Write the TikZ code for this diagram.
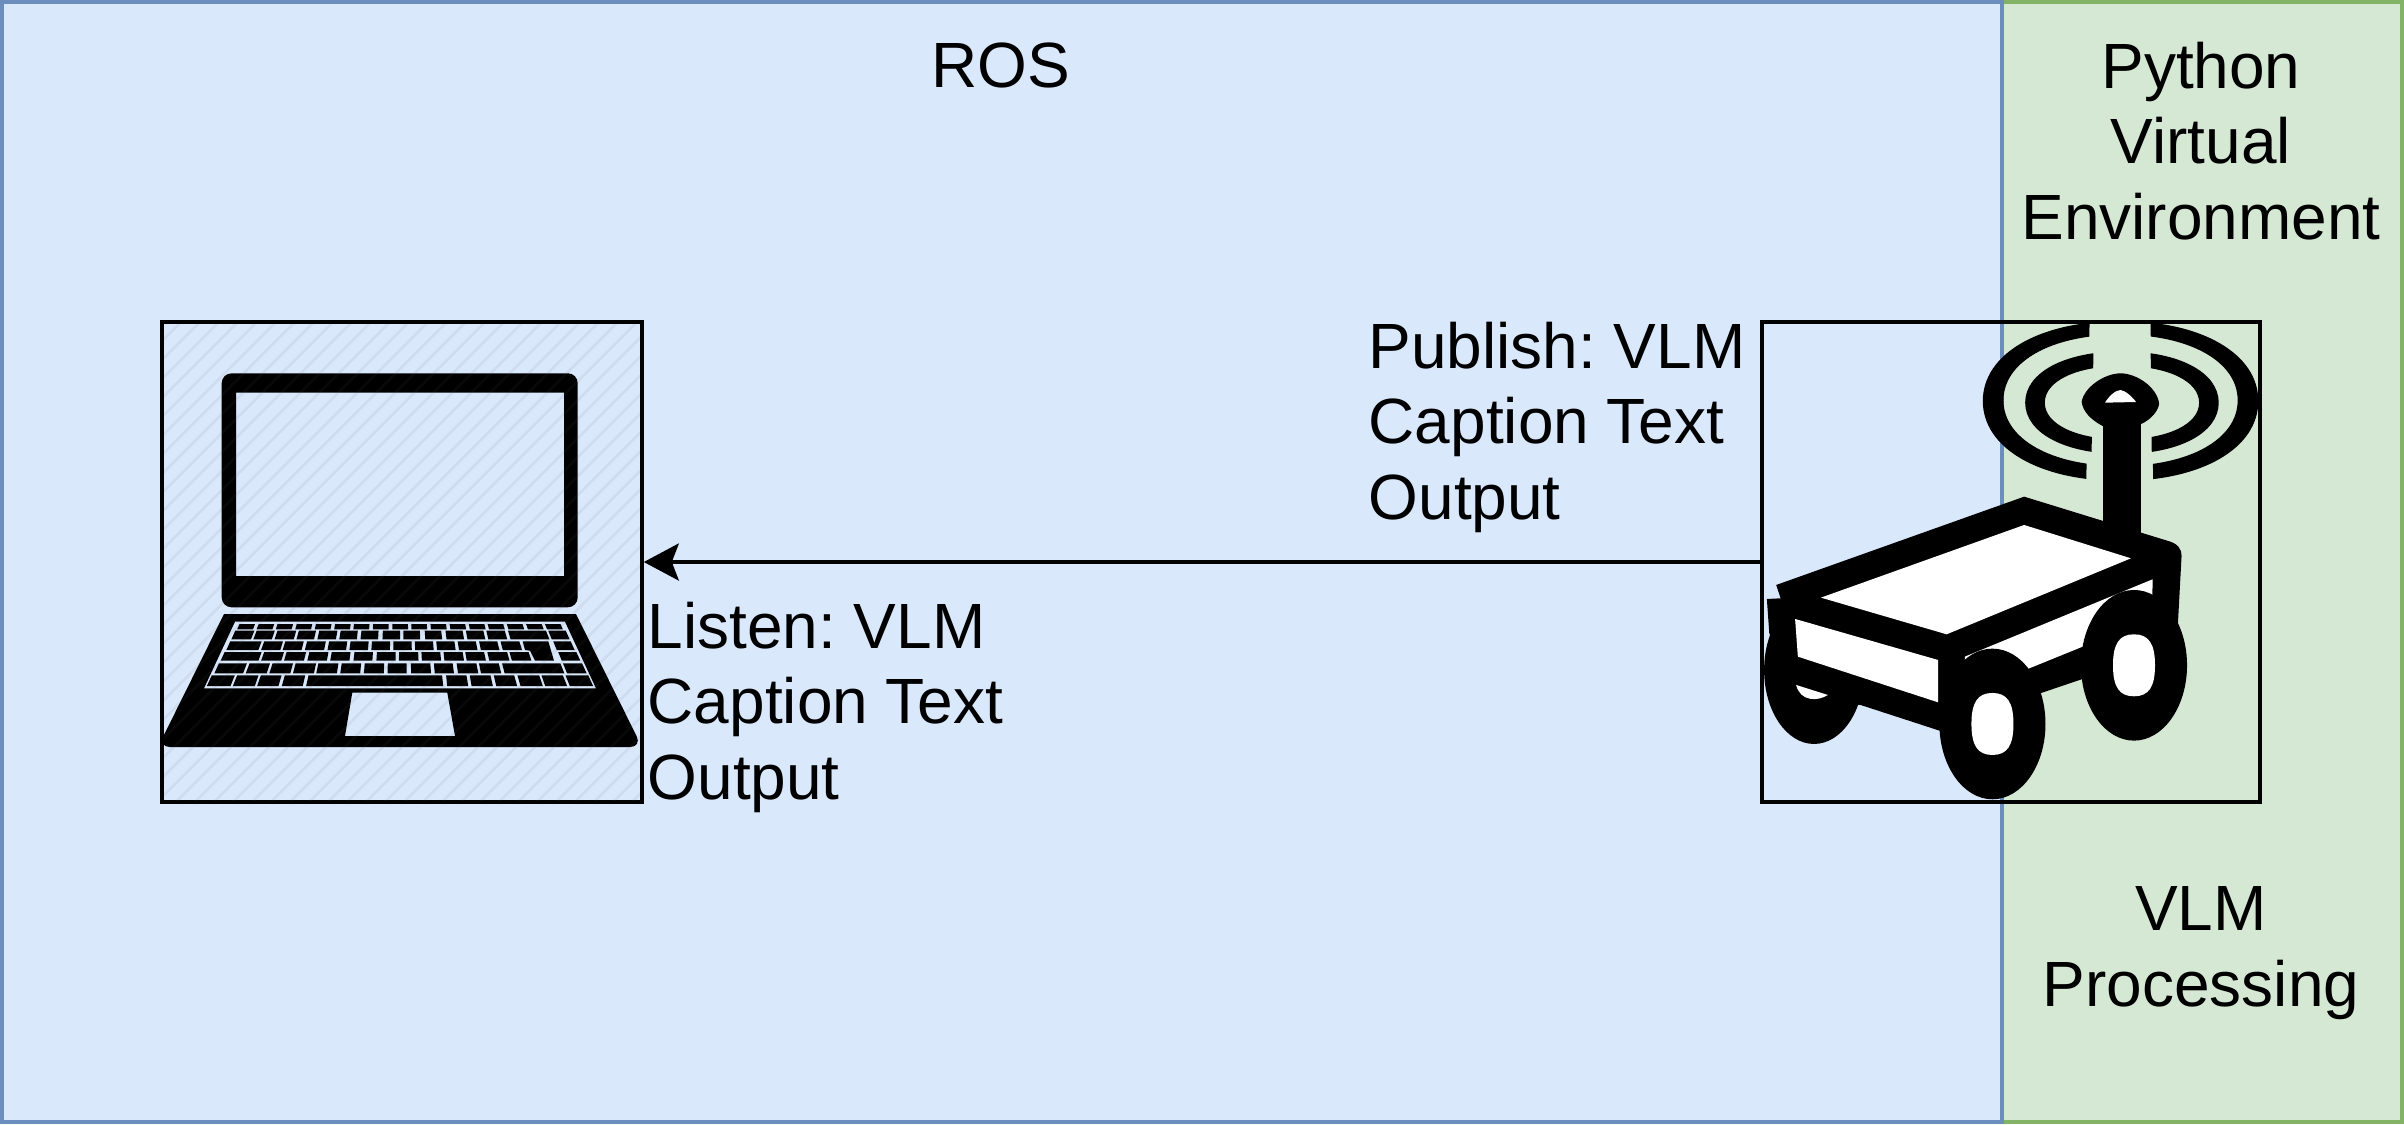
\documentclass[tikz,border=0pt]{standalone}
\usepackage{fontspec}
\setmainfont{Liberation Sans}
\usetikzlibrary{arrows.meta}

\definecolor{rosfill}{HTML}{DAE8FC}
\definecolor{rosline}{HTML}{6C8EBF}
\definecolor{pyfill}{HTML}{D5E8D4}
\definecolor{pyline}{HTML}{82B366}
\definecolor{hatchline}{HTML}{5F6068}

\tikzset{
  area/.style={line width=.4mm},
  iconbox/.style={draw=black,line width=.36mm,minimum height=48mm,inner sep=0pt},
  lbl/.style={inner sep=0pt,font=\fontsize{18.2}{21.6}\selectfont\frenchspacing},
  declare function={keyhw(\t)=165+(\t-621.7)*.4655;}
}

% one row of keys, x values are taken at the middle of the row
\newcommand{\lapkeys}[3]{%
  \pgfmathsetmacro{\ymid}{(#1+#2)/2}
  \pgfmathsetmacro{\ktop}{keyhw(#1)/keyhw(\ymid)}
  \pgfmathsetmacro{\kbot}{keyhw(#2)/keyhw(\ymid)}
  \foreach \a/\b in {#3} {
    \fill ({400+(\a/3-200)*\ktop},#1) -- ({400+(\b/3-200)*\ktop},#1)
       -- ({400+(\b/3-200)*\kbot},#2) -- ({400+(\a/3-200)*\kbot},#2) -- cycle;
  }
}

% oval a bit squarer than an ellipse: cx, cy, rx, ry, squareness
\newcommand{\squoval}[5]{
  (#1-#3,#2) .. controls (#1-#3,#2-#5*#4) and (#1-#5*#3,#2-#4) .. (#1,#2-#4)
  .. controls (#1+#5*#3,#2-#4) and (#1+#3,#2-#5*#4) .. (#1+#3,#2)
  .. controls (#1+#3,#2+#5*#4) and (#1+#5*#3,#2+#4) .. (#1,#2+#4)
  .. controls (#1-#5*#3,#2+#4) and (#1-#3,#2+#5*#4) .. (#1-#3,#2) -- cycle
}

\begin{document}
\begin{tikzpicture}[x=0.1mm,y=-0.1mm,>={Stealth[length=3.5mm,width=3.7mm,inset=.7mm]}]
\useasboundingbox (0,0) rectangle (2404,1124);

% areas
\draw [area,draw=pyline,fill=pyfill] (2002,2) rectangle (2402,1122);
\draw [area,draw=rosline,fill=rosfill] (2,2) rectangle (2002,1122);

\node[lbl,anchor=base] (rostitle) at (1001,87) {ROS};
\node[lbl,anchor=north,align=center] (pytitle) at (2201,41) {Python\\Virtual\\Environment};
\node[lbl,anchor=north,align=center] (vlmtitle) at (2201,886) {VLM\\Processing};

% boxes
\node[iconbox,minimum width=48mm] (lapbox) at (402,562) {};
\node[iconbox,minimum width=49.8mm] (robotbox) at (2011,562) {};

\draw [line width=.36mm,->] (robotbox.west) -- (lapbox.east);

\node[lbl,anchor=north west,align=left] (publishtxt) at (1368,321) {Publish: VLM\\Caption Text\\Output};
\node[lbl,anchor=north west,align=left] (listentxt) at (647,601) {Listen: VLM\\Caption Text\\Output};

% laptop
\fill [even odd rule,rounded corners=2.8pt] (221.7,373.3) rectangle (577.7,607.3)
   [sharp corners] (236,392.7) rectangle (564,576);
\fill [even odd rule] (224,614) -- (576,614) [rounded corners=3.4pt] -- (642,747) -- (158,747) [sharp corners] -- cycle
   (235,621.7) -- (565,621.7) -- (596,688.3) -- (204,688.3) -- cycle
   (352.3,692.7) -- (447.3,692.7) -- (455,736) -- (345,736) -- cycle;

\lapkeys{624}{629.3}{115/162,173/220,230/277,288/335,346/393,404/451,461/508,519/566,577/624,634/681,692/739,750/797,808/855,865/912,923/970,981/1028,1038/1085}
\lapkeys{630.7}{639.3}{100/158,165/220,228/285,293/345,355/410,420/472,483/535,548/600,610/660,675/725,738/790,800/853,862/918,928/1043,1050/1103}
\lapkeys{641.3}{650}{85/180,188/245,252/308,318/375,385/440,450/505,515/570,580/635,645/700,710/765,775/830,840/895,905/962,1065/1118}
\lapkeys{652}{660.7}{68/180,188/248,256/315,325/383,393/450,462/518,530/587,597/655,665/722,732/790,798/855,865/925,932/990,1080/1135}
\lapkeys{663.3}{673.3}{50/135,143/205,213/275,283/345,352/413,423/482,493/552,563/620,633/692,703/760,772/832,840/900,910/1087,1095/1153}
\lapkeys{675.3}{686}{28/98,105/170,177/240,250/312,322/728,740/802,812/875,885/947,957/1023,1030/1095,1103/1172}
% enter key
\fill (522.7,641.3) -- (548.3,641.3) -- (554,660.7) -- (535,660.7) -- (530,650.7) -- (525,650) -- cycle;

% hatching of the laptop box
\begin{scope}
\clip (164,324) rectangle (640,800);
\foreach \h in {0,19,...,969} {
    \draw [hatchline,opacity=.085,line width=.25mm] (\h-318,802) -- ++(480,-480);
}
\end{scope}

% robot, numbers measured on a 2.904 x 3 grid
\begin{scope}[shift={(1740,300)},xscale=.3444,yscale=.3333]
  % rings
  \begin{scope}
    \clip (650,70) -- (1015,70) -- (1005,560) -- (650,560) -- cycle (1192,70) -- (1550,70) -- (1550,560) -- (1200,560) -- cycle;
    \fill [even odd rule] \squoval{1105}{303}{400}{240}{.59} \squoval{1105}{301}{340}{197}{.59};
  \end{scope}
  \begin{scope}
    \clip (750,120) -- (1027,120) -- (1020,500) -- (750,500) -- cycle (1192,120) -- (1450,120) -- (1450,500) -- (1196,500) -- cycle;
    \fill [even odd rule] \squoval{1109}{308}{281}{154}{.59} \squoval{1109}{308}{224}{110}{.59};
  \end{scope}
  % mast
  \fill (1053,340) rectangle (1165,740);
  \fill (992,305) .. controls (1000,260) and (1060,220) .. (1105,220) .. controls (1150,220) and (1210,260) .. (1217,310)
     .. controls (1215,335) and (1190,360) .. (1165,372) -- (1053,378) .. controls (1020,360) and (995,335) .. (992,305) -- cycle;
  \fill [white] (1060,308) .. controls (1070,290) and (1090,270) .. (1105,270) .. controls (1120,272) and (1140,292) .. (1150,306) -- cycle;
  % rear left wheel
  \fill (215,1110) ellipse [x radius=145,y radius=222];
  % body
  \fill (105,855) -- (825,590) -- (1240,722) .. controls (1270,730) and (1283,745) .. (1282,770) -- (1270,1000) -- (1100,1100)
     -- (872,1180) -- (700,1330) -- (582,1293) -- (350,1215) -- (200,1200) -- (85,1000) -- (78,897) -- (118,895) -- cycle;
  \fill [white] (235,893) -- (825,675) -- (1135,775) -- (600,1003) -- cycle;
  \fill [white] (160,957) -- (575,1080) -- (575,1207) -- (168,1070) -- cycle;
  \fill [white] (653,1070) -- (1198,838) -- (1196,1000) -- (995,1040) -- (833,1108) -- (653,1108) -- cycle;
  \fill [white] (163,1155) -- (255,1185) .. controls (225,1205) and (175,1205) .. (163,1155) -- cycle;
  % front and right wheels
  \foreach \cx/\cy in {733/1272,1144/1096} {
      \fill (\cx,\cy) ellipse [x radius=154,y radius=226];
      \fill [white] \squoval{\cx}{\cy}{61}{93}{.7};
  }
\end{scope}

\end{tikzpicture}
\end{document}
